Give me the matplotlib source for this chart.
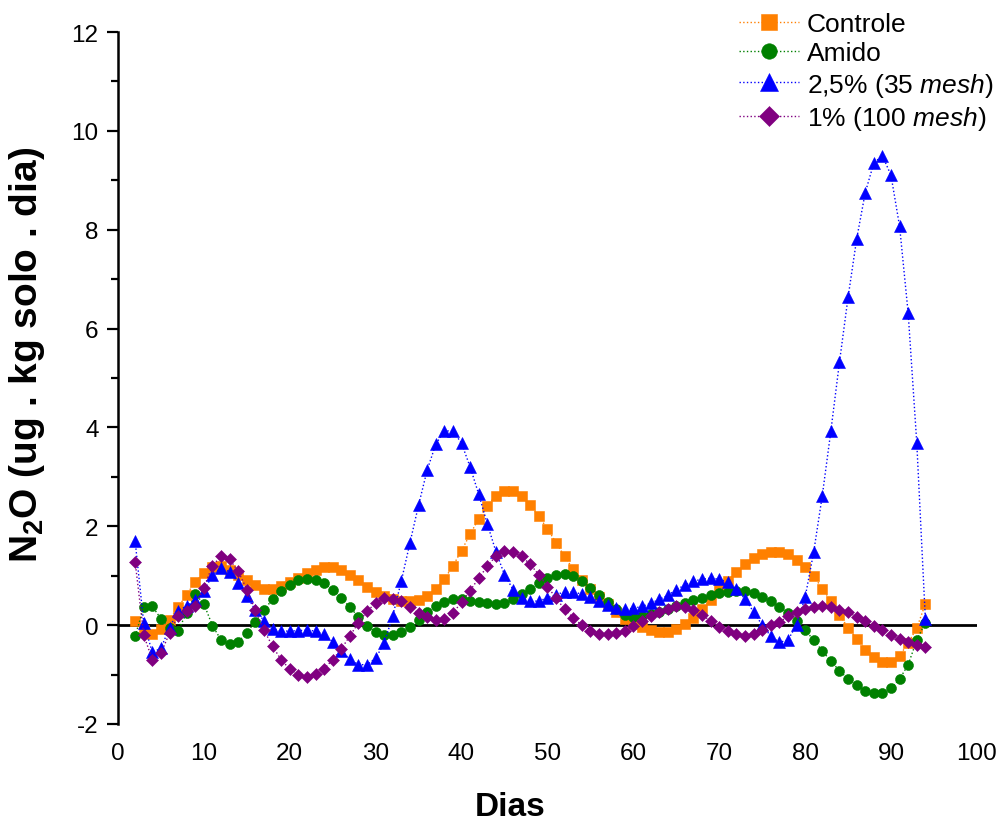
import matplotlib
matplotlib.use("Agg")
import matplotlib.pyplot as plt
from matplotlib.ticker import MultipleLocator

plt.rcParams["font.family"] = ["Liberation Sans", "DejaVu Sans"]
plt.rcParams["mathtext.fontset"] = "custom"
plt.rcParams["mathtext.rm"] = "Liberation Sans"
plt.rcParams["mathtext.it"] = "Liberation Sans:italic"
plt.rcParams["mathtext.bf"] = "Liberation Sans:bold"
plt.rcParams["axes.unicode_minus"] = False

# Sampling days
dias = list(range(2, 95))

controle = [
    0.09, -0.10, -0.18, -0.08, 0.11, 0.36, 0.62, 0.88, 1.05, 1.18,
    1.20, 1.12, 1.02, 0.91, 0.81, 0.74, 0.73, 0.80, 0.88, 0.95,
    1.05, 1.12, 1.17, 1.17, 1.11, 1.01, 0.91, 0.78, 0.67, 0.59,
    0.53, 0.49, 0.48, 0.51, 0.59, 0.73, 0.93, 1.20, 1.51, 1.84,
    2.15, 2.42, 2.62, 2.72, 2.72, 2.62, 2.44, 2.20, 1.95, 1.67,
    1.39, 1.13, 0.92, 0.73, 0.56, 0.42, 0.27, 0.13, 0.02, -0.04,
    -0.10, -0.13, -0.13, -0.08, 0.02, 0.15, 0.33, 0.50, 0.73, 0.90,
    1.08, 1.24, 1.35, 1.44, 1.47, 1.47, 1.44, 1.32, 1.18, 0.99,
    0.74, 0.49, 0.20, -0.05, -0.28, -0.50, -0.64, -0.74, -0.74, -0.62,
    -0.36, -0.06, 0.43,
]

amido = [
    -0.22, 0.36, 0.38, 0.13, -0.05, -0.11, 0.25, 0.63, 0.43, -0.01,
    -0.30, -0.39, -0.34, -0.15, 0.07, 0.30, 0.53, 0.70, 0.81, 0.91,
    0.94, 0.92, 0.85, 0.72, 0.55, 0.36, 0.17, -0.01, -0.13, -0.20,
    -0.20, -0.13, -0.04, 0.10, 0.26, 0.38, 0.46, 0.52, 0.52, 0.49,
    0.46, 0.44, 0.43, 0.45, 0.52, 0.64, 0.74, 0.85, 0.95, 1.02,
    1.03, 1.00, 0.89, 0.76, 0.61, 0.47, 0.33, 0.20, 0.16, 0.18,
    0.22, 0.27, 0.32, 0.38, 0.44, 0.50, 0.55, 0.60, 0.65, 0.68,
    0.69, 0.69, 0.65, 0.57, 0.48, 0.37, 0.25, 0.09, -0.10, -0.30,
    -0.52, -0.73, -0.92, -1.09, -1.22, -1.33, -1.38, -1.37, -1.27, -1.09,
    -0.80, -0.30, 0.05,
]

mesh35 = [
    1.70, 0.04, -0.55, -0.47, -0.05, 0.29, 0.39, 0.50, 0.69, 1.01,
    1.15, 1.08, 0.86, 0.59, 0.30, 0.09, -0.07, -0.12, -0.12, -0.11,
    -0.10, -0.12, -0.18, -0.34, -0.52, -0.69, -0.80, -0.80, -0.67, -0.36,
    0.19, 0.90, 1.67, 2.43, 3.14, 3.66, 3.93, 3.93, 3.68, 3.20,
    2.65, 2.05, 1.49, 1.02, 0.72, 0.55, 0.48, 0.49, 0.55, 0.62,
    0.67, 0.67, 0.63, 0.56, 0.48, 0.41, 0.35, 0.32, 0.34, 0.38,
    0.44, 0.52, 0.60, 0.72, 0.81, 0.89, 0.93, 0.95, 0.93, 0.87,
    0.73, 0.53, 0.27, 0.00, -0.22, -0.35, -0.30, 0.00, 0.56, 1.48,
    2.62, 3.93, 5.32, 6.63, 7.81, 8.75, 9.35, 9.50, 9.10, 8.07,
    6.31, 3.69, 0.13,
]

mesh100 = [
    1.28, -0.20, -0.70, -0.57, -0.16, 0.19, 0.29, 0.38, 0.76, 1.20,
    1.40, 1.33, 1.09, 0.72, 0.30, -0.10, -0.43, -0.70, -0.89, -1.00,
    -1.04, -0.99, -0.88, -0.70, -0.48, -0.22, 0.05, 0.28, 0.45, 0.54,
    0.53, 0.48, 0.37, 0.24, 0.16, 0.10, 0.12, 0.25, 0.46, 0.70,
    0.95, 1.19, 1.40, 1.50, 1.48, 1.39, 1.23, 1.02, 0.78, 0.55,
    0.32, 0.15, 0.00, -0.11, -0.17, -0.18, -0.16, -0.11, -0.02, 0.09,
    0.18, 0.27, 0.33, 0.38, 0.37, 0.30, 0.20, 0.09, -0.03, -0.12,
    -0.18, -0.22, -0.18, -0.09, 0.00, 0.06, 0.18, 0.27, 0.32, 0.36,
    0.38, 0.36, 0.31, 0.26, 0.17, 0.09, -0.01, -0.10, -0.20, -0.28,
    -0.35, -0.40, -0.45,
]

labels = ["Controle", "Amido", r"2,5% (35 $\mathit{mesh}$)", r"1% (100 $\mathit{mesh}$)"]
series = [controle, amido, mesh35, mesh100]
colors = ["#FF8000", "#008000", "#0000FF", "#800080"]
markers = ["s", "o", "^", "D"]
msizes = [7.0, 7.2, 8.6, 6.4]

x_ticks = list(range(0, 101, 10))
y_ticks = list(range(-2, 13, 2))

fig = plt.figure(figsize=(10.04, 8.28), dpi=100)
ax = fig.add_axes([0.1175, 0.1244, 0.8555, 0.8357])

for vals, lab, col, mk, ms in zip(series, labels, colors, markers, msizes):
    ax.plot(dias, vals, linestyle=":", linewidth=1.0, color=col,
            marker=mk, markersize=ms, markerfacecolor=col,
            markeredgecolor=col, markeredgewidth=0.4, label=lab)

ax.axhline(0, color="black", linewidth=2.0, zorder=1)

ax.set_xlim(0, 100)
ax.set_ylim(-2, 12)
ax.set_xticks(x_ticks)
ax.set_yticks(y_ticks)
ax.yaxis.set_minor_locator(MultipleLocator(1))

for side in ("top", "right", "bottom"):
    ax.spines[side].set_visible(False)
ax.spines["left"].set_linewidth(1.8)

ax.tick_params(axis="y", which="major", direction="out", length=8, width=1.6,
               labelsize=17.5, pad=6)
ax.tick_params(axis="y", which="minor", direction="out", length=5, width=1.6)
ax.tick_params(axis="x", which="both", length=0, labelsize=17.5, pad=13)

ax.set_xlabel("Dias", fontsize=24, fontweight="bold")
ax.xaxis.set_label_coords(0.457, -0.097)
ax.set_ylabel(r"N$_{\mathbf{2}}$O (ug . kg solo . dia)", fontsize=28,
              fontweight="bold")
ax.yaxis.set_label_coords(-0.083, 0.535)

leg = fig.legend(loc="upper left", bbox_to_anchor=(0.726, 0.997), frameon=False,
                 fontsize=19, markerscale=1.55, handlelength=2.25,
                 labelspacing=0.2, handletextpad=0.3, borderaxespad=0.0)

fig.savefig("out.png", dpi=100)
